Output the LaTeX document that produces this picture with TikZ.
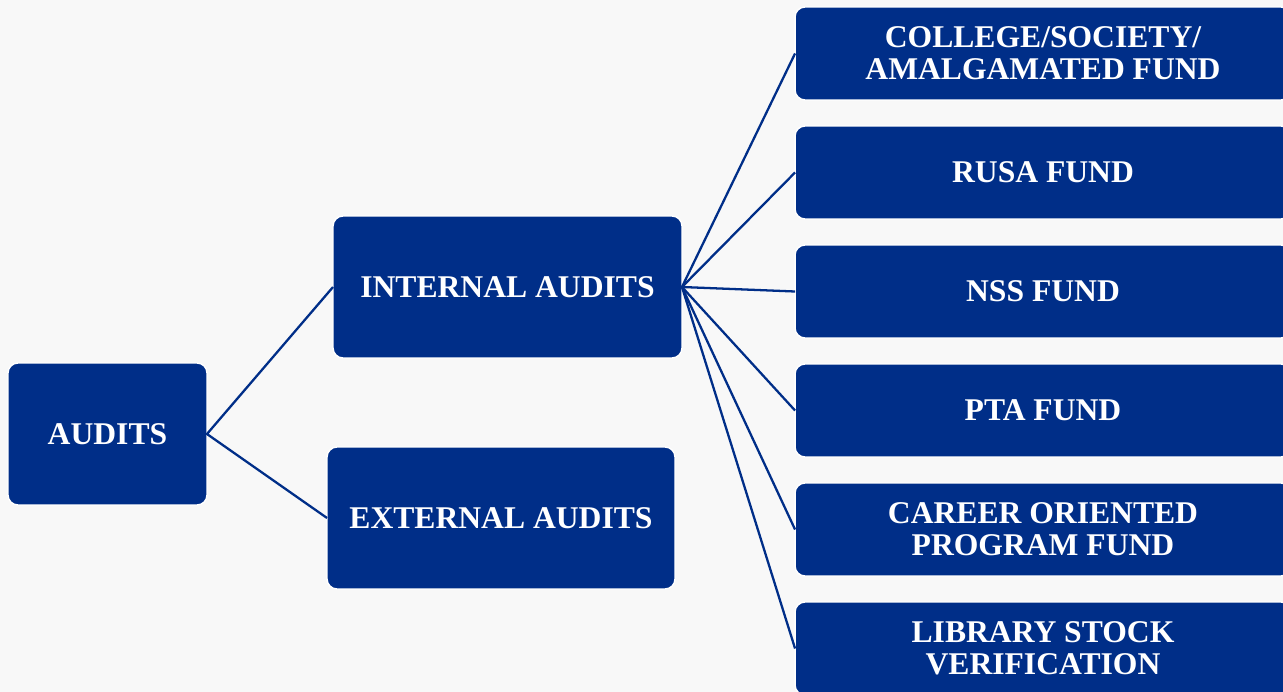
\documentclass[tikz,border=0pt]{standalone}
\usepackage{fontspec}
\setmainfont{Liberation Serif}
\definecolor{auditblue}{RGB}{0,46,136}
\definecolor{pagegray}{RGB}{248,248,248}

\begin{document}
\begin{tikzpicture}[x=0.02cm, y=-0.02cm,
    box/.style={fill=auditblue, draw=white, line width=0.8pt, rounded corners=0.2cm,
        text=white, align=center, inner sep=0pt, outer sep=0pt,
        font=\fontsize{18}{18.2}\selectfont\bfseries},
    fundbox/.style={box, minimum width=9.92cm, minimum height=1.86cm},
    link/.style={draw=auditblue, line width=1.3pt}]
    \fill[pagegray] (0,0) rectangle (1283,692);
    \clip (0,0) rectangle (1283,692);

    \node[box, minimum width=3.98cm, minimum height=2.84cm] (audits) at (107.5,434) {AUDITS};
    \node[box, minimum width=6.98cm, minimum height=2.84cm] (internal) at (507.5,287) {INTERNAL AUDITS};
    \node[box, minimum width=6.96cm, minimum height=2.84cm] (external) at (501,518) {EXTERNAL AUDITS};

    \node[fundbox] (college) at (1043,53.5) {COLLEGE/SOCIETY/\\AMALGAMATED FUND};
    \node[fundbox] (rusa) at (1043,172.5) {RUSA FUND};
    \node[fundbox] (nss) at (1043,291.5) {NSS FUND};
    \node[fundbox] (pta) at (1043,410.5) {PTA FUND};
    \node[fundbox] (career) at (1043,529.5) {CAREER ORIENTED\\PROGRAM FUND};
    \node[fundbox] (library) at (1043,648.5) {LIBRARY STOCK\\VERIFICATION};

    \draw[link] (internal.west) -- (audits.east) -- (external.west);
    \draw[link] (internal.east) -- (college.west);
    \draw[link] (internal.east) -- (rusa.west);
    \draw[link] (internal.east) -- (nss.west);
    \draw[link] (internal.east) -- (pta.west);
    \draw[link] (internal.east) -- (career.west);
    \draw[link] (internal.east) -- (library.west);
\end{tikzpicture}
\end{document}
